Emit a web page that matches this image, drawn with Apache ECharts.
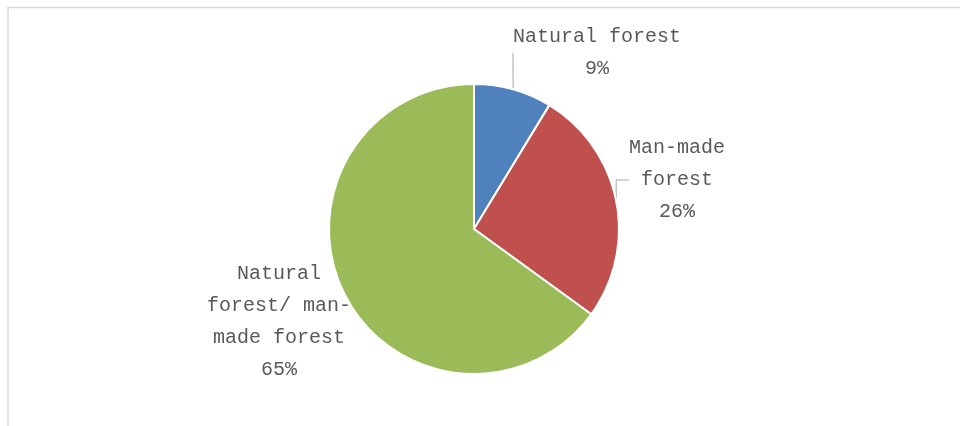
<!DOCTYPE html>
<html>
<head>
<meta charset="utf-8">
<script src="https://cdn.jsdelivr.net/npm/echarts@6/dist/echarts.min.js"></script>
<style>
  html, body { margin: 0; padding: 0; background: #fff; }
  #chart { width: 960px; height: 426px; }
</style>
</head>
<body>
<div id="chart"></div>
<script>
// forest type shares
const categories = ['Natural forest', 'Man-made forest', 'Natural forest/ man-made forest'];
const labelTexts = ['Natural forest', 'Man-made\nforest', 'Natural\nforest/ man-\nmade forest'];
const shares = [8.7, 26.3, 65.0];
const colors = ['#4F81BD', '#C0504D', '#9BBB59'];

// where each label sits (centre of text block)
const labelSpots = [
  { x: 597, y: 53 },
  { x: 677, y: 180 },
  { x: 279, y: 322 }
];

const chart = echarts.init(document.getElementById('chart'));
chart.setOption({
  animation: false,
  color: colors,
  graphic: [
    {
      type: 'polyline',
      shape: { points: [[8, 426], [8, 7.5], [960, 7.5]] },
      style: { stroke: '#d9d9d9', lineWidth: 1.5, fill: null },
      silent: true
    }
  ],
  series: [
    {
      type: 'pie',
      center: [474, 229],
      radius: 145,
      startAngle: 90,
      clockwise: true,
      itemStyle: { borderColor: '#fff', borderWidth: 2 },
      label: {
        show: true,
        fontFamily: 'Liberation Mono',
        fontSize: 20,
        lineHeight: 32,
        color: '#595959',
        align: 'center',
        formatter: function (p) {
          return labelTexts[p.dataIndex] + '\n' + Math.round(p.percent) + '%';
        }
      },
      labelLine: {
        show: true,
        lineStyle: { color: '#a6a6a6', width: 1 }
      },
      labelLayout: function (params) {
        const s = labelSpots[params.dataIndex];
        return { x: s.x, y: s.y, align: 'center', verticalAlign: 'middle' };
      },
      data: categories.map(function (c, i) {
        const d = { name: c, value: shares[i] };
        if (i === 2) d.labelLine = { show: false };
        return d;
      })
    }
  ]
});
</script>
</body>
</html>
